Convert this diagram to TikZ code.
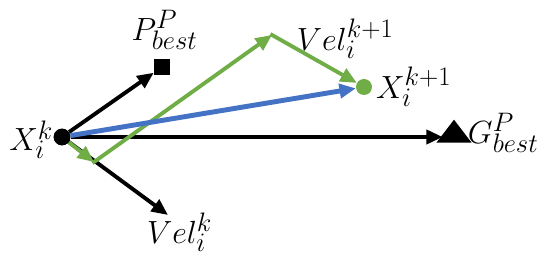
\documentclass[tikz,border=0pt]{standalone}
\usepackage{tikz}
\usetikzlibrary{shapes.geometric, arrows.meta, positioning}
\definecolor{SwarmGreen}{HTML}{70AD47}
\definecolor{SwarmBlue}{HTML}{4472C4}
\definecolor{SwarmBlack}{HTML}{000000}
\tikzset{
    % Labels
    every node/.style={font=\Huge},
    label text/.style={inner sep=1pt, scale=1.1},
    % Current position
    particle/.style={
        circle,
        fill=SwarmBlack,
        inner sep=0pt,
        minimum size=0.5cm
    },
    % Next position
    newparticle/.style={
        circle,
        fill=SwarmGreen,
        inner sep=0pt,
        minimum size=0.48cm
    },
    % Personal best
    personal/.style={
        rectangle,
        fill=SwarmBlack,
        inner sep=0pt,
        minimum size=0.48cm
    },
    % Global best
    global/.style={
        isosceles triangle,
        shape border rotate=90,
        isosceles triangle apex angle=75,
        fill=SwarmBlack,
        inner sep=0pt,
        minimum height=0.69cm,
        minimum width=0.96cm
    },
    % Arrow styles
    arrow/.style={
        -{Triangle[length=14pt, width=12pt]},
        line width=3.3pt,
        color=SwarmBlack
    },
    greenarrow/.style={arrow, color=SwarmGreen},
    bluearrow/.style={arrow, line width=4.2pt, color=SwarmBlue}
}
\begin{document}
\begin{tikzpicture}[x=0.03cm, y=-0.03cm]
        \useasboundingbox (0,0) rectangle (550,261);

        % Points
        \node (xk) [particle] at (62,137) {};
        \node (pbest) [personal] at (162,67) {};
        \node (gbest) [global] at (454,134) {};
        \node (xk1) [newparticle] at (364,87) {};
        \coordinate (turn1) at (94,162);
        \coordinate (turn2) at (272,35);
        \coordinate (velk) at (168,215);

        % Black moves
        \draw [arrow] (xk) -- (pbest);
        \draw [arrow] (xk.center) -- (velk);
        \draw [arrow] (xk) -- (gbest.west |- xk);

        % Green moves
        \draw [greenarrow] (xk) -- (turn1);
        \draw [greenarrow, shorten <=-1.6pt] (turn1) -- (turn2);
        \draw [greenarrow, shorten <=-1.6pt] (turn2) -- (xk1);

        % Resulting move
        \draw [bluearrow] (xk) -- (xk1);
        \node [particle] at (xk) {};

        % Labels
        \node (xklbl) [label text, left=-1pt of xk, yshift=-2pt] {$X_i^k$};
        \node (pbestlbl) [label text, above=7pt of pbest, xshift=2pt] {$P_{best}^P$};
        \node (gbestlbl) [label text, right=1pt of gbest.east |- xk, yshift=3pt] {$G_{best}^P$};
        \node (xk1lbl) [label text, right=2pt of xk1] {$X_i^{k+1}$};
        \node (vel1lbl) [label text, right=20pt of turn2, yshift=-3pt] {$Vel_i^{k+1}$};
        \node (velklbl) [label text, below=-3pt of velk, xshift=9pt] {$Vel_i^k$};
    \end{tikzpicture}
\end{document}
